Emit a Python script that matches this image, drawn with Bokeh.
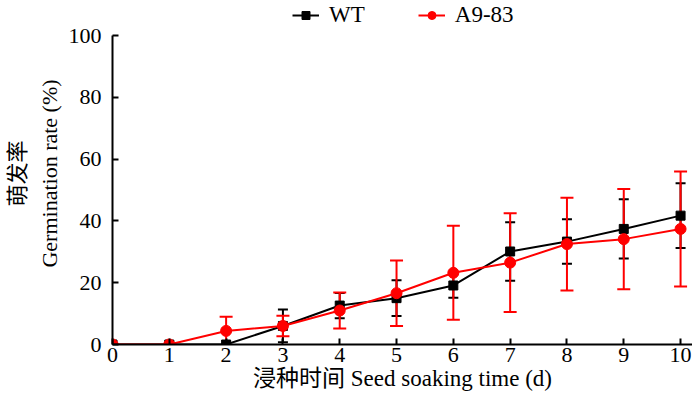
from bokeh.plotting import figure
from bokeh.models import ColumnDataSource, Whisker, TeeHead, Legend, LegendItem, FixedTicker
from bokeh.embed import file_html
from bokeh.resources import INLINE

days = [0, 1, 2, 3, 4, 5, 6, 7, 8, 9, 10]
wt_mean = [0, 0, 0, 6.0, 12.6, 15.0, 19.1, 30.1, 33.3, 37.4, 41.7]
wt_err = [0, 0, 0, 5.3, 4.1, 5.8, 4.0, 9.5, 7.2, 9.6, 10.5]
a9_mean = [0, 0, 4.4, 6.0, 11.0, 16.6, 23.2, 26.5, 32.5, 34.1, 37.4]
a9_err = [0, 0, 4.6, 3.3, 5.8, 10.6, 15.2, 16.0, 15.0, 16.2, 18.6]
x_ticks = [0, 1, 2, 3, 4, 5, 6, 7, 8, 9, 10]
y_ticks = [0, 20, 40, 60, 80, 100]

FONT = "Liberation Serif, Noto Sans CJK SC"

p = figure(width=692, height=407, output_backend="svg", toolbar_location=None,
           x_range=(0, 10.21), y_range=(0, 110.68),
           min_border_left=112, min_border_right=0, min_border_top=2, min_border_bottom=63)
p.outline_line_color = None
p.grid.visible = False
p.background_fill_color = "white"
p.border_fill_color = "white"

def wsrc(mean, err):
    xs, up, lo = [], [], []
    for d, m, e in zip(days, mean, err):
        if e > 0:
            xs.append(d); up.append(m + e); lo.append(m - e)
    return ColumnDataSource(dict(x=xs, upper=up, lower=lo))

w_wt = Whisker(source=wsrc(wt_mean, wt_err), base="x", upper="upper", lower="lower",
               line_color="black", line_width=2,
               upper_head=TeeHead(size=10, line_color="black", line_width=2),
               lower_head=TeeHead(size=10, line_color="black", line_width=2))
w_a9 = Whisker(source=wsrc(a9_mean, a9_err), base="x", upper="upper", lower="lower",
               line_color="#ff0000", line_width=2,
               upper_head=TeeHead(size=13, line_color="#ff0000", line_width=2),
               lower_head=TeeHead(size=13, line_color="#ff0000", line_width=2))
p.add_layout(w_wt)
p.add_layout(w_a9)

src_wt = ColumnDataSource(dict(x=days, y=wt_mean))
src_a9 = ColumnDataSource(dict(x=days, y=a9_mean))
l1 = p.line("x", "y", source=src_wt, line_color="black", line_width=2)
m1 = p.scatter("x", "y", source=src_wt, marker="square", size=9, fill_color="black", line_color="black")
l2 = p.line("x", "y", source=src_a9, line_color="#ff0000", line_width=2)
m2 = p.scatter("x", "y", source=src_a9, marker="circle", size=11, fill_color="#ff0000", line_color="#ff0000")

for ax in (p.xaxis[0], p.yaxis[0]):
    ax.axis_line_width = 2
    ax.axis_line_color = "black"
    ax.major_tick_line_width = 2
    ax.major_tick_line_color = "black"
    ax.major_tick_in = 6
    ax.major_tick_out = 0
    ax.minor_tick_in = 0
    ax.minor_tick_out = 0
    ax.major_label_text_font = FONT
    ax.major_label_text_font_size = "22px"
    ax.major_label_text_color = "black"
    ax.axis_label_text_font = FONT
    ax.axis_label_text_font_style = "normal"
    ax.axis_label_text_color = "black"
p.xaxis.ticker = FixedTicker(ticks=x_ticks)
p.yaxis.ticker = FixedTicker(ticks=y_ticks)
p.yaxis.bounds = (0, 100)
p.xaxis.major_label_standoff = 3
p.yaxis.major_label_standoff = 11
p.xaxis.axis_label = "浸种时间 Seed soaking time (d)"
p.xaxis.axis_label_text_font_size = "23px"
p.xaxis.axis_label_standoff = 1
p.yaxis.axis_label = "萌发率\nGermination rate (%)"
p.yaxis.axis_label_text_font_size = "22px"
p.yaxis.axis_label_text_line_height = 1.25
p.yaxis.axis_label_standoff = 4

legend = Legend(items=[LegendItem(label="WT", renderers=[l1, m1]),
                       LegendItem(label="A9-83", renderers=[l2, m2])],
                orientation="horizontal", location=(180, 316),
                glyph_width=27, glyph_height=20, label_standoff=10, spacing=53,
                padding=0, margin=0, border_line_color=None, background_fill_alpha=0,
                label_text_font=FONT, label_text_font_size="23px", label_text_color="black")
p.add_layout(legend, "center")

open("out.html", "w").write(file_html(p, INLINE))
